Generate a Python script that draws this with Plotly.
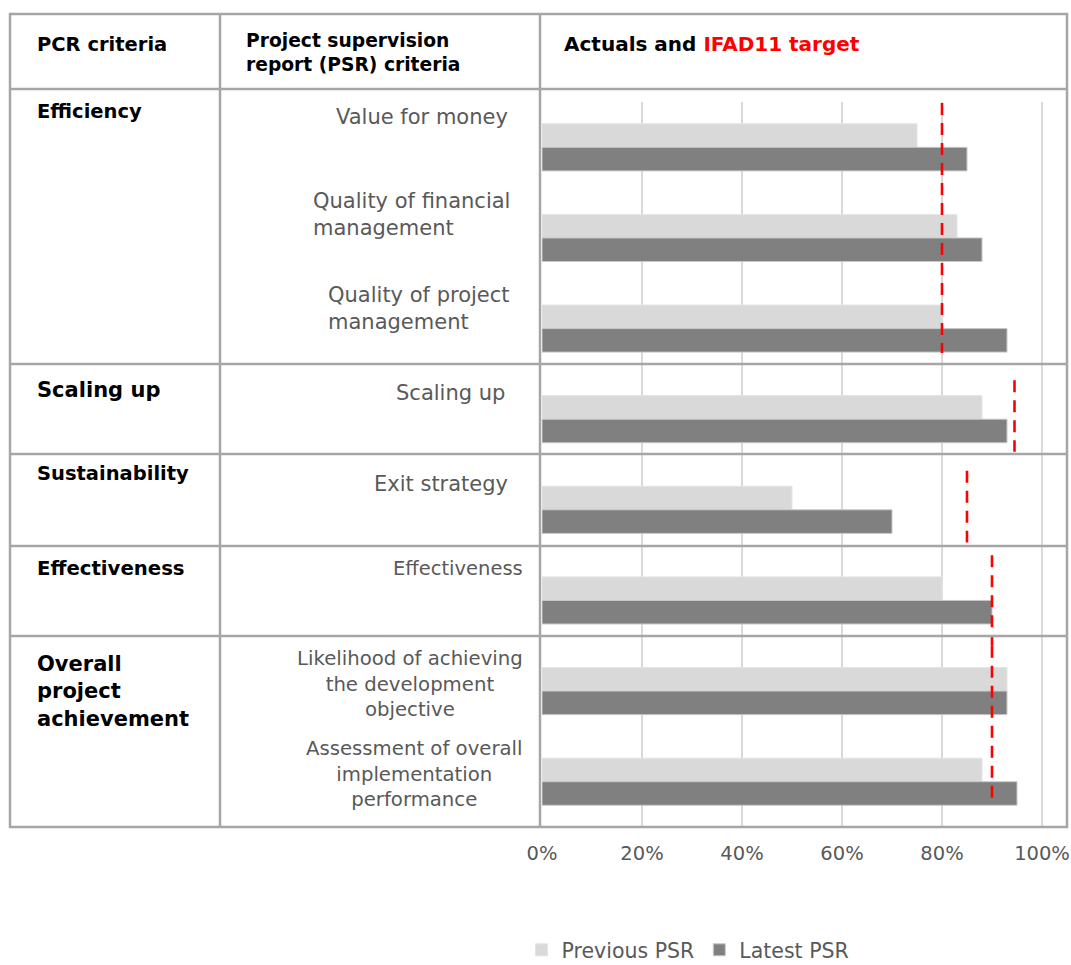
import plotly.graph_objects as go

W, H = 1071, 965

# PSR criteria (one bar pair per criterion), top to bottom
criteria = [
    "Value for money",
    "Quality of financial<br>management",
    "Quality of project<br>management",
    "Scaling up",
    "Exit strategy",
    "Effectiveness",
    "Likelihood of achieving<br>the development<br>objective",
    "Assessment of overall<br>implementation<br>performance",
]
previous_psr = [0.75, 0.83, 0.80, 0.88, 0.50, 0.80, 0.93, 0.88]
latest_psr = [0.85, 0.88, 0.93, 0.93, 0.70, 0.90, 0.93, 0.95]

# PCR criteria groups and the IFAD11 target for each
pcr_groups = ["Efficiency", "Scaling up", "Sustainability", "Effectiveness",
              "Overall<br>project<br>achievement"]
group_first = [0, 3, 4, 5, 6]
group_last = [2, 3, 4, 5, 7]
ifad11_target = [0.80, 0.945, 0.85, 0.90, 0.90]

tick_values = [0, 0.2, 0.4, 0.6, 0.8, 1.0]
tick_labels = ["0%", "20%", "40%", "60%", "80%", "100%"]

FONT = "DejaVu Sans"
GREY_TEXT = "#595959"
BORDER = "#A6A6A6"


def fx(px):
    return px / W


def fy(py):
    return 1 - py / H


positions = list(range(len(criteria)))

fig = go.Figure()
fig.add_trace(go.Bar(
    y=positions, x=previous_psr, orientation="h", name="Previous PSR",
    marker=dict(color="#D9D9D9", line=dict(color="#E4E4E4", width=1)),
))
fig.add_trace(go.Bar(
    y=positions, x=latest_psr, orientation="h", name="Latest PSR",
    marker=dict(color="#808080", line=dict(color="#C8C8C8", width=1)),
))

shapes = []

# IFAD11 target markers, one dashed segment per PCR group
# (extent of each segment, in category units around its group)
target_pad_top = [0.49, 0.43, 0.43, 0.50, 0.50]
target_pad_bottom = [0.27, 0.36, 0.36, 0.50, 0.24]
for first, last, target, pt, pb in zip(group_first, group_last, ifad11_target,
                                       target_pad_top, target_pad_bottom):
    shapes.append(dict(
        type="line", xref="x", yref="y", x0=target, x1=target,
        y0=first - pt, y1=last + pb,
        line=dict(color="#FF0000", width=2.6, dash="12px,8px"), layer="above",
    ))

# Table grid
left, right, top, bottom = 10, 1067, 14, 827
col_lines = [220, 540]
row_lines = [89, 364, 454, 546, 636]
shapes.append(dict(type="rect", xref="paper", yref="paper",
                   x0=fx(left), x1=fx(right), y0=fy(bottom), y1=fy(top),
                   line=dict(color=BORDER, width=2.5), layer="above"))
for cx in col_lines:
    shapes.append(dict(type="line", xref="paper", yref="paper",
                       x0=fx(cx), x1=fx(cx), y0=fy(bottom), y1=fy(top),
                       line=dict(color=BORDER, width=2.5), layer="above"))
for ry in row_lines:
    shapes.append(dict(type="line", xref="paper", yref="paper",
                       x0=fx(left), x1=fx(right), y0=fy(ry), y1=fy(ry),
                       line=dict(color=BORDER, width=2.5), layer="above"))

annotations = []

# Header row
headers = [
    ("<b>PCR criteria</b>", 35, 45, 19.5),
    ("<b>Project supervision<br>report (PSR) criteria</b>", 244, 52, 18.7),
    ("<b>Actuals and <span style='color:#FF0000'>IFAD11 target</span></b>", 562, 44, 20),
]
for text, hx, hy, size in headers:
    annotations.append(dict(text=text, x=fx(hx), y=fy(hy),
                            xref="paper", yref="paper", xanchor="left", yanchor="middle",
                            showarrow=False, align="left",
                            font=dict(family=FONT, size=size, color="black")))

# PCR group labels in the first column
group_label_y = [111, 390, 474, 568, 691]
group_label_size = [19.5, 21, 19.5, 19.7, 21]
for text, ly, size in zip(pcr_groups, group_label_y, group_label_size):
    annotations.append(dict(text=f"<b>{text}</b>", x=fx(35), y=fy(ly),
                            xref="paper", yref="paper", xanchor="left",
                            yanchor="middle", showarrow=False, align="left",
                            font=dict(family=FONT, size=size, color="black")))

# PSR criteria labels in the second column
label_dy = [-0.34, -0.26, -0.22, -0.29, -0.29, -0.35, -0.08, -0.09]
label_x = [510, 311, 326, 507, 510, 525, 525, 525]
label_anchor = ["right", "left", "left", "right", "right", "right", "right", "right"]
label_align = ["right", "left", "left", "right", "right", "right", "center", "center"]
label_size = [21, 21, 21, 21, 21, 19.5, 19.7, 19.7]
for i, text in enumerate(criteria):
    annotations.append(dict(text=text, x=fx(label_x[i]), y=i + label_dy[i],
                            xref="paper", yref="y", xanchor=label_anchor[i],
                            yanchor="middle", align=label_align[i],
                            showarrow=False,
                            font=dict(family=FONT, size=label_size[i], color=GREY_TEXT)))

fig.update_layout(
    width=W, height=H,
    margin=dict(l=0, r=0, t=0, b=0, autoexpand=False),
    paper_bgcolor="white", plot_bgcolor="white",
    barmode="group", bargap=0.48, bargroupgap=0,
    font=dict(family=FONT, color=GREY_TEXT),
    xaxis=dict(
        domain=[fx(542), fx(1067)], range=[0, 1.05],
        tickvals=tick_values, ticktext=tick_labels,
        showgrid=True, gridcolor="#D9D9D9", gridwidth=1.5,
        zeroline=False, showline=False, ticks="",
        ticklabelstandoff=12, automargin=False,
        tickfont=dict(family=FONT, size=19.5, color=GREY_TEXT),
        fixedrange=True,
    ),
    yaxis=dict(
        domain=[fy(827), fy(102)], range=[7.5, -0.5],
        showticklabels=False, showgrid=False, zeroline=False, showline=False,
        ticks="", fixedrange=True, automargin=False,
    ),
    legend=dict(
        orientation="h", x=fx(688), y=-5 / H, xanchor="center", yanchor="bottom",
        font=dict(family=FONT, size=20.5, color=GREY_TEXT),
        itemwidth=30, traceorder="normal", bgcolor="rgba(0,0,0,0)",
    ),
    shapes=shapes,
    annotations=annotations,
    showlegend=True,
)

fig.write_html("out.html")
